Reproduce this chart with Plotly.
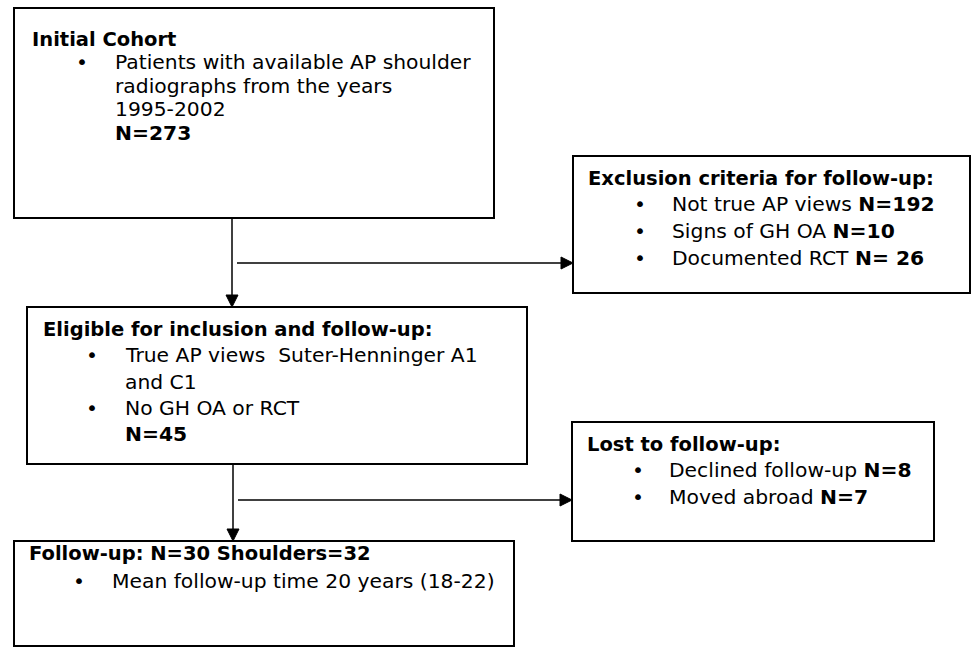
import plotly.graph_objects as go

# ---------------- data (text content of the flowchart) ----------------
box_titles = [
    "Initial Cohort",
    "Exclusion criteria for follow-up:",
    "Eligible for inclusion and follow-up:",
    "Lost to follow-up:",
    "Follow-up: N=30 Shoulders=32",
]
initial_lines = ["Patients with available AP shoulder", "radiographs from the years", "1995-2002", "<b>N=273</b>"]
initial_bullets = [True, False, False, False]
exclusion_lines = ["Not true AP views <b>N=192</b>", "Signs of GH OA <b>N=10</b>", "Documented RCT <b>N= 26</b>"]
exclusion_bullets = [True, True, True]
eligible_lines = ["True AP views  Suter-Henninger A1", "and C1", "No GH OA or RCT", "<b>N=45</b>"]
eligible_bullets = [True, False, True, False]
lost_lines = ["Declined follow-up <b>N=8</b>", "Moved abroad <b>N=7</b>"]
lost_bullets = [True, True]
followup_lines = ["Mean follow-up time 20 years (18-22)"]
followup_bullets = [True]

# ---------------- layout (positions in page-pixel axis units) ----------------
W, H = 972, 648
FONT = "DejaVu Sans, Liberation Sans, Arial, sans-serif"
FS = 20.3
FS_TITLE = 19.5
TXT_PAD = 2

boxes = [  # x0, y0, x1, y1
    (14, 8, 494, 218),
    (573, 156, 970, 293),
    (27, 307, 527, 464),
    (572, 422, 934, 541),
    (14, 541, 514, 646),
]
# title pos (x, y), bullet x, text x, line ys
text_layout = [
    dict(tx=32, ty=39, bx=76, lx=115, ys=[62, 86, 109, 133]),
    dict(tx=588, ty=178, bx=634, lx=672, ys=[204, 231, 258]),
    dict(tx=43, ty=329, bx=86, lx=125, ys=[355, 382, 408, 434]),
    dict(tx=587, ty=444, bx=632, lx=669, ys=[470, 497]),
    dict(tx=29, ty=553, bx=73, lx=112, ys=[581]),
]
contents = [
    (initial_lines, initial_bullets),
    (exclusion_lines, exclusion_bullets),
    (eligible_lines, eligible_bullets),
    (lost_lines, lost_bullets),
    (followup_lines, followup_bullets),
]

fig = go.Figure()
shapes = []
annotations = []

for (x0, y0, x1, y1) in boxes:
    shapes.append(dict(type="rect", x0=x0, y0=y0, x1=x1, y1=y1,
                       line=dict(color="black", width=2), fillcolor="white", layer="below"))

def txt(x, y, s, size):
    return dict(x=x - TXT_PAD, y=y, text=s, showarrow=False, xanchor="left", yanchor="middle",
                font=dict(family=FONT, size=size, color="black"))

for title, lay, (lines, bullets) in zip(box_titles, text_layout, contents):
    annotations.append(txt(lay["tx"], lay["ty"], "<b>" + title + "</b>", FS_TITLE))
    for line, bul, y in zip(lines, bullets, lay["ys"]):
        if bul:
            annotations.append(txt(lay["bx"], y, "•", FS))
        annotations.append(txt(lay["lx"], y, line, FS))

# connectors: (vertical x, y from, y to (arrow tip), branch y, branch x0, branch x1 (arrow tip))
connectors = [
    (232, 218, 307, 263, 237, 573),
    (233, 464, 541, 500, 238, 572),
]
AH = 12  # arrow head length
AW = 6   # half width
for (vx, vy0, vy1, by, bx0, bx1) in connectors:
    shapes.append(dict(type="line", x0=vx, y0=vy0, x1=vx, y1=vy1 - AH,
                       line=dict(color="black", width=1.5)))
    shapes.append(dict(type="path",
                       path=f"M {vx-AW},{vy1-AH} L {vx+AW},{vy1-AH} L {vx},{vy1} Z",
                       fillcolor="black", line=dict(color="black", width=1)))
    shapes.append(dict(type="line", x0=bx0, y0=by, x1=bx1 - AH, y1=by,
                       line=dict(color="black", width=1.5)))
    shapes.append(dict(type="path",
                       path=f"M {bx1-AH},{by-AW} L {bx1-AH},{by+AW} L {bx1},{by} Z",
                       fillcolor="black", line=dict(color="black", width=1)))

fig.update_layout(
    width=W, height=H,
    margin=dict(l=0, r=0, t=0, b=0),
    paper_bgcolor="white", plot_bgcolor="white",
    xaxis=dict(range=[0, W], visible=False, fixedrange=True),
    yaxis=dict(range=[H, 0], visible=False, fixedrange=True),
    shapes=shapes, annotations=annotations,
    showlegend=False,
)
fig.write_html(
    "out.html",
    config={"displayModeBar": False, "staticPlot": True},
    post_script=(
        "document.body.style.margin='0';"
        "document.body.style.overflow='hidden';"
        "document.documentElement.style.overflow='hidden';"
    ),
)
